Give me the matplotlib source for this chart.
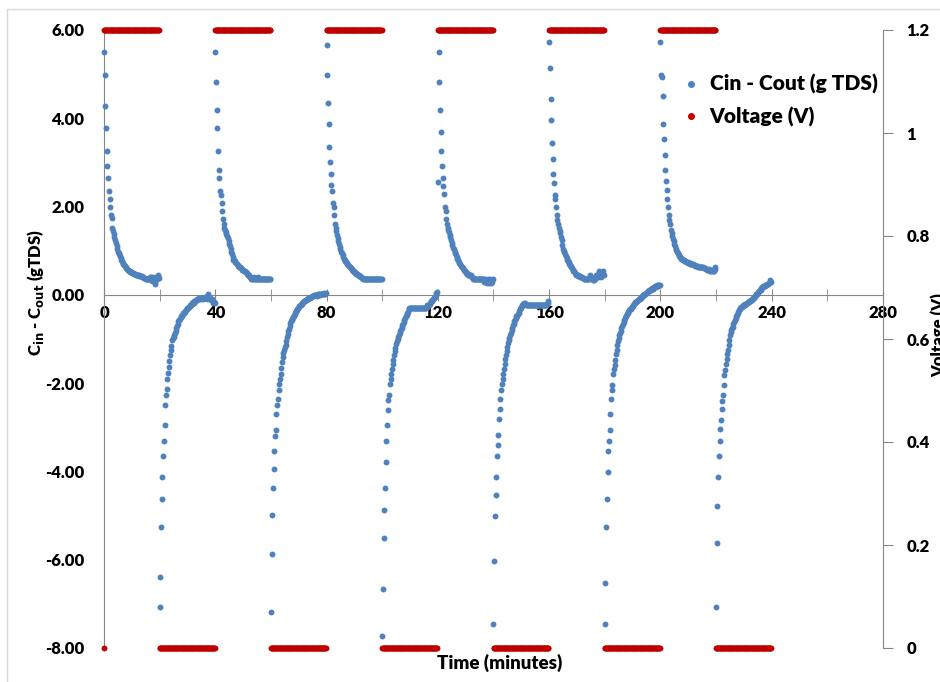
import numpy as np
import matplotlib.pyplot as plt
from matplotlib.lines import Line2D
from matplotlib.patches import Rectangle
from matplotlib.ticker import FormatStrFormatter, MultipleLocator

plt.rcParams['font.family'] = ['Lato', 'DejaVu Sans']
plt.rcParams['font.weight'] = 'heavy'
plt.rcParams['axes.unicode_minus'] = False

# logger interval (minutes) and the start of each 40 min charge/discharge cycle
step = 0.25
cycle_start = [0, 40, 80, 120, 160, 200]
half_cycle = 20

# applied voltage during charge / discharge
charge_volts = 1.2
discharge_volts = 0.0

# Cin - Cout (g TDS) while charging
charge_1 = [5.50, 4.98, 4.27, 3.78, 3.27, 2.92, 2.64, 2.36, 2.17, 2.00,
            1.80, 1.74, 1.52, 1.45, 1.38, 1.30, 1.24, 1.17, 1.10, 1.05,
            0.98, 0.95, 0.92, 0.88, 0.84, 0.80, 0.76, 0.73, 0.71, 0.68,
            0.65, 0.62, 0.60, 0.58, 0.57, 0.56, 0.55, 0.53, 0.52, 0.52,
            0.50, 0.50, 0.49, 0.48, 0.48, 0.47, 0.46, 0.46, 0.45, 0.44,
            0.44, 0.43, 0.43, 0.42, 0.42, 0.40, 0.40, 0.38, 0.38, 0.38,
            0.37, 0.37, 0.36, 0.36, 0.37, 0.37, 0.40, 0.36, 0.40, 0.32,
            0.36, 0.40, 0.32, 0.24, 0.30, 0.40, 0.36, 0.45, 0.40, 0.38]
charge_2 = [5.50, 4.82, 4.19, 3.77, 3.27, 2.82, 2.64, 2.36, 2.27, 2.08,
            1.90, 1.72, 1.61, 1.52, 1.47, 1.42, 1.38, 1.34, 1.28, 1.22,
            1.16, 1.10, 1.04, 0.98, 0.92, 0.86, 0.80, 0.78, 0.76, 0.74,
            0.72, 0.70, 0.68, 0.66, 0.64, 0.62, 0.62, 0.60, 0.58, 0.57,
            0.56, 0.55, 0.54, 0.53, 0.52, 0.50, 0.48, 0.46, 0.44, 0.42,
            0.40, 0.38, 0.37, 0.35, 0.35, 0.35, 0.40, 0.35, 0.35, 0.35,
            0.35, 0.35, 0.40, 0.35, 0.35, 0.35, 0.35, 0.35, 0.35, 0.35,
            0.35, 0.35, 0.35, 0.35, 0.35, 0.35, 0.35, 0.35, 0.35, 0.35]
charge_3 = [5.66, 4.98, 4.34, 3.86, 3.35, 3.00, 2.74, 2.49, 2.36, 2.09,
            2.00, 1.81, 1.61, 1.52, 1.44, 1.36, 1.29, 1.22, 1.15, 1.09,
            1.03, 0.98, 0.94, 0.90, 0.86, 0.82, 0.79, 0.77, 0.75, 0.72,
            0.70, 0.68, 0.66, 0.64, 0.62, 0.61, 0.59, 0.57, 0.55, 0.53,
            0.52, 0.50, 0.49, 0.48, 0.47, 0.46, 0.44, 0.43, 0.42, 0.41,
            0.40, 0.39, 0.38, 0.37, 0.36, 0.35, 0.35, 0.35, 0.35, 0.35,
            0.35, 0.35, 0.35, 0.35, 0.35, 0.35, 0.35, 0.35, 0.35, 0.35,
            0.35, 0.35, 0.35, 0.35, 0.35, 0.35, 0.35, 0.35, 0.35, 0.35]
charge_4 = [2.56, 5.50, 4.82, 4.19, 3.69, 3.27, 2.92, 2.65, 2.47, 2.29,
            2.00, 1.90, 1.71, 1.61, 1.52, 1.48, 1.42, 1.36, 1.30, 1.24,
            1.18, 1.12, 1.07, 1.03, 0.98, 0.94, 0.90, 0.86, 0.82, 0.78,
            0.75, 0.72, 0.69, 0.66, 0.64, 0.62, 0.60, 0.57, 0.56, 0.54,
            0.52, 0.50, 0.48, 0.47, 0.46, 0.45, 0.44, 0.44, 0.42, 0.40,
            0.38, 0.36, 0.35, 0.35, 0.35, 0.35, 0.35, 0.35, 0.35, 0.35,
            0.35, 0.35, 0.35, 0.35, 0.35, 0.35, 0.35, 0.30, 0.35, 0.30,
            0.26, 0.30, 0.35, 0.26, 0.30, 0.35, 0.30, 0.26, 0.30, 0.35]
charge_5 = [5.73, 5.14, 4.43, 3.95, 3.44, 3.08, 2.74, 2.54, 2.27, 2.17,
            2.00, 1.81, 1.70, 1.61, 1.52, 1.45, 1.39, 1.32, 1.25, 1.14,
            1.03, 1.00, 0.98, 0.93, 0.88, 0.84, 0.80, 0.77, 0.74, 0.71,
            0.68, 0.65, 0.62, 0.60, 0.57, 0.55, 0.53, 0.50, 0.48, 0.46,
            0.44, 0.44, 0.43, 0.42, 0.42, 0.41, 0.40, 0.40, 0.38, 0.38,
            0.37, 0.37, 0.36, 0.36, 0.35, 0.35, 0.35, 0.35, 0.38, 0.44,
            0.40, 0.35, 0.35, 0.33, 0.33, 0.35, 0.35, 0.40, 0.46, 0.44,
            0.40, 0.46, 0.53, 0.48, 0.44, 0.40, 0.46, 0.53, 0.48, 0.44]
charge_6 = [5.73, 4.98, 4.94, 4.51, 3.86, 3.53, 3.17, 2.83, 2.59, 2.38,
            2.18, 1.98, 1.80, 1.70, 1.61, 1.48, 1.40, 1.34, 1.27, 1.21,
            1.16, 1.10, 1.05, 1.01, 0.98, 0.94, 0.91, 0.88, 0.85, 0.84,
            0.82, 0.81, 0.80, 0.79, 0.78, 0.77, 0.76, 0.75, 0.75, 0.74,
            0.73, 0.73, 0.72, 0.71, 0.71, 0.70, 0.70, 0.69, 0.68, 0.67,
            0.66, 0.66, 0.66, 0.65, 0.64, 0.64, 0.64, 0.63, 0.62, 0.62,
            0.62, 0.62, 0.61, 0.61, 0.60, 0.59, 0.58, 0.57, 0.57, 0.57,
            0.58, 0.55, 0.53, 0.57, 0.53, 0.55, 0.57, 0.53, 0.58, 0.62]

# Cin - Cout (g TDS) while discharging
discharge_1 = [-7.07, -6.40, -5.26, -4.62, -4.13, -3.66, -3.30, -2.95, -2.49, -2.26,
               -2.14, -1.90, -1.78, -1.64, -1.50, -1.37, -1.26, -1.15, -1.03, -0.98,
               -0.95, -0.92, -0.86, -0.81, -0.76, -0.71, -0.66, -0.60, -0.57, -0.54,
               -0.51, -0.49, -0.47, -0.44, -0.42, -0.40, -0.38, -0.36, -0.34, -0.32,
               -0.30, -0.29, -0.27, -0.26, -0.24, -0.22, -0.20, -0.18, -0.17, -0.18,
               -0.15, -0.13, -0.12, -0.10, -0.12, -0.10, -0.08, -0.10, -0.06, -0.08,
               -0.10, -0.06, -0.08, -0.10, -0.06, -0.04, -0.06, -0.08, -0.10, -0.02,
               0.01, -0.04, -0.08, -0.10, -0.12, -0.10, -0.14, -0.18, -0.16, -0.18]
discharge_2 = [-7.18, -5.87, -4.99, -4.38, -3.95, -3.54, -3.20, -3.06, -2.71, -2.50,
               -2.37, -2.16, -2.02, -1.91, -1.79, -1.65, -1.51, -1.40, -1.32, -1.24,
               -1.18, -1.14, -1.05, -0.96, -0.89, -0.82, -0.78, -0.70, -0.63, -0.60,
               -0.57, -0.54, -0.51, -0.47, -0.43, -0.40, -0.37, -0.34, -0.31, -0.29,
               -0.27, -0.26, -0.24, -0.22, -0.20, -0.18, -0.17, -0.15, -0.15, -0.13,
               -0.12, -0.11, -0.10, -0.09, -0.08, -0.08, -0.06, -0.05, -0.04, -0.03,
               -0.03, -0.02, -0.01, 0.00, 0.00, 0.00, -0.02, 0.00, 0.01, 0.02,
               0.00, 0.01, 0.02, 0.03, 0.01, 0.03, 0.04, 0.02, 0.03, 0.04]
discharge_3 = [-7.73, -6.66, -5.51, -4.88, -4.37, -3.78, -3.30, -2.95, -2.61, -2.38,
               -2.26, -2.03, -1.90, -1.80, -1.68, -1.57, -1.47, -1.37, -1.28, -1.20,
               -1.12, -1.05, -1.01, -0.96, -0.92, -0.87, -0.83, -0.78, -0.74, -0.69,
               -0.65, -0.61, -0.57, -0.53, -0.49, -0.45, -0.42, -0.38, -0.33, -0.29,
               -0.29, -0.29, -0.29, -0.29, -0.29, -0.29, -0.29, -0.29, -0.29, -0.29,
               -0.29, -0.29, -0.29, -0.29, -0.29, -0.29, -0.29, -0.29, -0.29, -0.29,
               -0.29, -0.29, -0.29, -0.29, -0.27, -0.24, -0.24, -0.22, -0.20, -0.18,
               -0.15, -0.13, -0.12, -0.10, -0.08, -0.06, -0.04, 0.00, 0.04, 0.06]
discharge_4 = [-7.45, -6.03, -5.00, -4.53, -4.13, -3.66, -3.40, -3.18, -2.82, -2.59,
               -2.37, -2.16, -2.02, -1.91, -1.80, -1.69, -1.57, -1.46, -1.37, -1.28,
               -1.19, -1.10, -1.03, -0.97, -0.92, -0.86, -0.80, -0.74, -0.69, -0.65,
               -0.60, -0.56, -0.52, -0.49, -0.47, -0.43, -0.40, -0.36, -0.33, -0.30,
               -0.27, -0.24, -0.22, -0.20, -0.19, -0.19, -0.20, -0.22, -0.24, -0.24,
               -0.24, -0.24, -0.24, -0.24, -0.24, -0.24, -0.24, -0.24, -0.24, -0.24,
               -0.24, -0.24, -0.24, -0.24, -0.24, -0.24, -0.24, -0.24, -0.24, -0.24,
               -0.24, -0.24, -0.24, -0.24, -0.24, -0.24, -0.22, -0.20, -0.18, -0.15]
discharge_5 = [-7.45, -6.53, -5.26, -4.62, -4.02, -3.54, -3.30, -3.07, -2.71, -2.36,
               -2.16, -2.04, -1.80, -1.68, -1.58, -1.47, -1.35, -1.24, -1.14, -1.05,
               -0.98, -0.92, -0.87, -0.81, -0.76, -0.70, -0.65, -0.61, -0.57, -0.53,
               -0.49, -0.47, -0.44, -0.41, -0.38, -0.35, -0.33, -0.31, -0.29, -0.27,
               -0.25, -0.23, -0.21, -0.19, -0.17, -0.16, -0.14, -0.13, -0.12, -0.10,
               -0.09, -0.07, -0.06, -0.04, -0.03, -0.01, 0.00, 0.01, 0.02, 0.05,
               0.04, 0.07, 0.08, 0.08, 0.10, 0.12, 0.11, 0.13, 0.15, 0.14,
               0.16, 0.17, 0.19, 0.18, 0.20, 0.22, 0.21, 0.23, 0.23, 0.23]
discharge_6 = [-7.07, -5.62, -4.78, -4.13, -3.66, -3.30, -3.05, -2.83, -2.59, -2.40,
               -2.26, -2.05, -1.82, -1.70, -1.57, -1.45, -1.35, -1.24, -1.14, -1.03,
               -0.92, -0.85, -0.80, -0.75, -0.72, -0.66, -0.61, -0.56, -0.52, -0.49,
               -0.45, -0.42, -0.39, -0.35, -0.32, -0.30, -0.28, -0.27, -0.25, -0.24,
               -0.22, -0.22, -0.21, -0.20, -0.19, -0.19, -0.17, -0.16, -0.15, -0.13,
               -0.12, -0.11, -0.10, -0.08, -0.06, -0.05, -0.03, -0.01, 0.01, 0.03,
               0.05, 0.06, 0.08, 0.10, 0.12, 0.15, 0.17, 0.18, 0.19, 0.20,
               0.21, 0.22, 0.23, 0.24, 0.24, 0.25, 0.26, 0.28, 0.33, 0.30]

charges = [charge_1, charge_2, charge_3, charge_4, charge_5, charge_6]
discharges = [discharge_1, discharge_2, discharge_3, discharge_4, discharge_5, discharge_6]

blue = '#4F81BD'
red = '#C00000'
grey = '#868686'

# stitch the half cycles into one time series each
t_conc, conc = [], []
t_volt, volts = [0.0], [discharge_volts]
for start, ch, dis in zip(cycle_start, charges, discharges):
    tc = start + step * np.arange(len(ch))
    td = start + half_cycle + step * np.arange(len(dis))
    t_conc += list(tc) + list(td)
    conc += ch + dis
    t_volt += list(tc) + list(td)
    volts += [charge_volts] * len(ch) + [discharge_volts] * len(dis)

fig = plt.figure(figsize=(9.4, 6.82), dpi=100)
fig.add_artist(Rectangle((7 / 940, -0.1), 1.2, 1.1 - 9 / 682, transform=fig.transFigure,
                         fill=False, edgecolor='#D9D9D9', lw=1))

ax = fig.add_axes([104 / 940, 1 - 648 / 682, (883 - 104) / 940, (648 - 30) / 682])
ax.scatter(t_conc, conc, s=18, color=blue, linewidths=0, zorder=3, clip_on=False)
ax.set_xlim(0, 280)
ax.set_ylim(-8, 6)
ax.set_yticks(np.arange(-8, 7, 2))
ax.yaxis.set_major_formatter(FormatStrFormatter('%.2f'))
ax.xaxis.set_major_locator(MultipleLocator(40))
ax.xaxis.set_minor_locator(MultipleLocator(20))

for side in ['top', 'right']:
    ax.spines[side].set_visible(False)
ax.spines['bottom'].set_position(('data', 0))
ax.spines['bottom'].set_color(grey)
ax.spines['left'].set_color(grey)
ax.tick_params(axis='y', length=0, pad=14, labelsize=12)
ax.tick_params(axis='x', which='both', direction='inout', length=8, color=grey,
               pad=3, labelsize=12)

ax2 = ax.twinx()
ax2.scatter(t_volt, volts, s=18, color=red, linewidths=0, zorder=4, clip_on=False)
ax2.set_ylim(0, 1.2)
ax2.set_yticks([0, 0.2, 0.4, 0.6, 0.8, 1.0, 1.2])
ax2.set_yticklabels(['0', '0.2', '0.4', '0.6', '0.8', '1', '1.2'])
for side in ['top', 'left', 'bottom']:
    ax2.spines[side].set_visible(False)
ax2.spines['right'].set_color(grey)
ax2.tick_params(axis='y', direction='out', length=7, color=grey, pad=10, labelsize=12)

fig.text(35 / 940, 1 - 293 / 682, r'C$_{\mathbf{in}}$ - C$_{\mathbf{out}}$ (gTDS)',
         rotation=90, ha='center', va='center', fontsize=12)
fig.text(931 / 940, 1 - 335 / 682, 'Voltage (V)', rotation=90, ha='left', va='center',
         fontsize=12)
fig.text(500 / 940, 1 - 663 / 682, 'Time (minutes)', ha='center', va='center', fontsize=13.5)

handles = [Line2D([], [], ls='none', marker='o', ms=4, color=blue),
           Line2D([], [], ls='none', marker='o', ms=4, color=red)]
fig.legend(handles, ['Cin - Cout (g TDS)', 'Voltage (V)'], loc='upper left',
           bbox_to_anchor=(672 / 940, 1 - 66 / 682), frameon=False, fontsize=15,
           handlelength=1, handletextpad=0.4, labelspacing=0.6, borderaxespad=0)

fig.savefig('out.png', dpi=100)
